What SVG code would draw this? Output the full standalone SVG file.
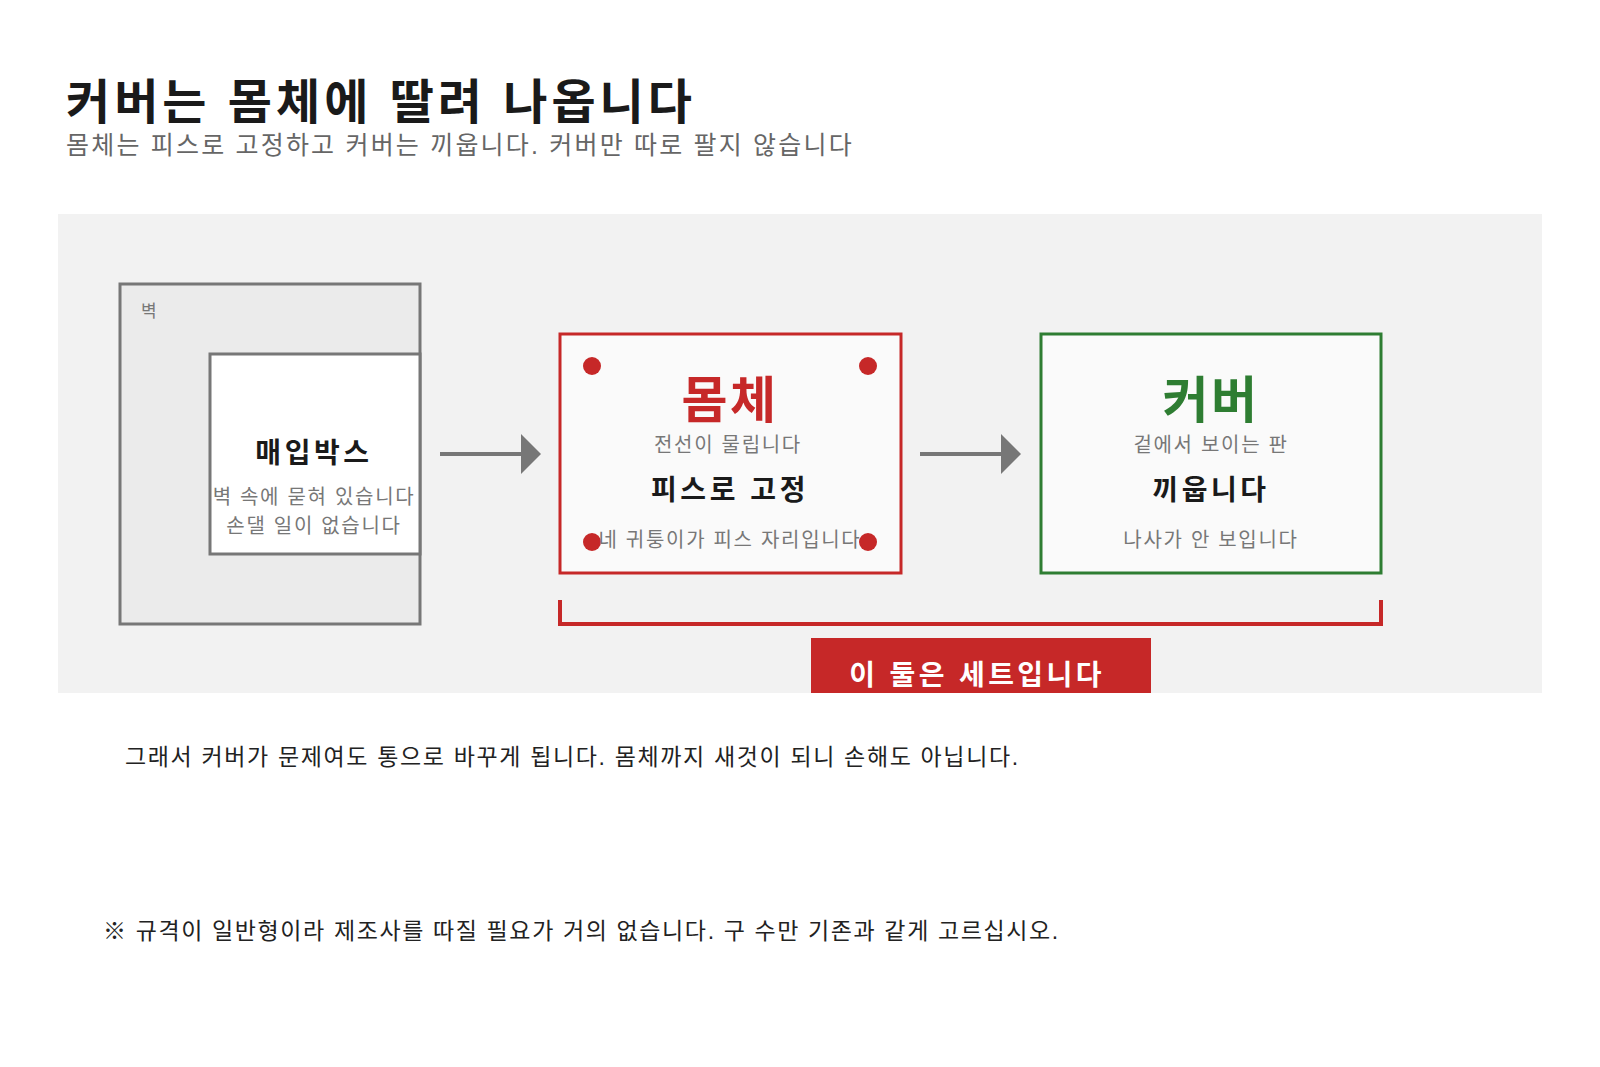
<svg xmlns="http://www.w3.org/2000/svg" width="1600" height="1067" viewBox="0 0 1600 1067">
<defs>
<style>
text{font-family:"Liberation Sans","Noto Sans CJK KR",sans-serif;}
.title{font-size:48px;font-weight:bold;fill:#1a1a1a;letter-spacing:4px;}
.sub{font-size:25px;fill:#666;letter-spacing:2.2px;}
.small{font-size:20px;fill:#777;letter-spacing:1.7px;}
.bold{font-weight:bold;fill:#1a1a1a;font-size:28px;letter-spacing:3.6px;}
.big{font-weight:bold;font-size:50px;letter-spacing:2.5px;}
.body{font-size:23px;fill:#222;letter-spacing:1.65px;}
.c{text-anchor:middle;}
.conn{stroke:#777;stroke-width:4;fill:none;}
</style>
<marker id="ah" markerUnits="userSpaceOnUse" markerWidth="20" markerHeight="40" refX="0" refY="20" orient="auto">
<path d="M0,0 L20,20 L0,40 Z" fill="#777"/>
</marker>
</defs>
<rect width="1600" height="1067" fill="#fff"/>
<g id="header">
<text class="title" x="66" y="119">커버는 몸체에 딸려 나옵니다</text>
<text class="sub" x="66" y="154">몸체는 피스로 고정하고 커버는 끼웁니다. 커버만 따로 팔지 않습니다</text>
</g>
<rect id="panel" x="58" y="214" width="1484" height="479" fill="#f2f2f2"/>
<g id="wall">
<rect x="120" y="284" width="300" height="340" fill="#ebebeb" stroke="#777" stroke-width="3"/>
<text class="small" x="141" y="317" style="font-size:17px">벽</text>
</g>
<g id="box">
<rect x="210" y="354" width="210" height="200" fill="#fff" stroke="#777" stroke-width="3"/>
<text class="bold c" x="314" y="463">매입박스</text>
<text class="small c" x="314" y="504">벽 속에 묻혀 있습니다</text>
<text class="small c" x="314" y="533">손댈 일이 없습니다</text>
</g>
<g id="body">
<rect x="560" y="334" width="341" height="239" fill="#fafafa" stroke="#c62828" stroke-width="3"/>
<circle cx="592" cy="366" r="9" fill="#c62828"/>
<circle cx="868" cy="366" r="9" fill="#c62828"/>
<circle cx="592" cy="542" r="9" fill="#c62828"/>
<circle cx="868" cy="542" r="9" fill="#c62828"/>
<text class="big c" x="730" y="418" fill="#c62828">몸체</text>
<text class="small c" x="728" y="452">전선이 물립니다</text>
<text class="bold c" x="730" y="500">피스로 고정</text>
<text class="small c" x="730" y="547">네 귀퉁이가 피스 자리입니다</text>
</g>
<g id="cover">
<rect x="1041" y="334" width="340" height="239" fill="#fafafa" stroke="#2e7d32" stroke-width="3"/>
<text class="big c" x="1211" y="418" fill="#2e7d32">커버</text>
<text class="small c" x="1211" y="452">겉에서 보이는 판</text>
<text class="bold c" x="1211" y="500">끼웁니다</text>
<text class="small c" x="1211" y="547">나사가 안 보입니다</text>
</g>
<g id="connectors">
<line class="conn" x1="440" y1="454" x2="521" y2="454" marker-end="url(#ah)"/>
<line class="conn" x1="920" y1="454" x2="1001" y2="454" marker-end="url(#ah)"/>
<path d="M560,600 V624 H1381 V600" fill="none" stroke="#c62828" stroke-width="4"/>
</g>
<g id="set-label">
<rect x="811" y="638" width="340" height="55" fill="#c62828"/>
<text class="c" x="977" y="685" style="font-size:28px;font-weight:bold;fill:#fff;letter-spacing:3.4px">이 둘은 세트입니다</text>
</g>
<g id="notes">
<text class="body" x="125" y="765">그래서 커버가 문제여도 통으로 바꾸게 됩니다. 몸체까지 새것이 되니 손해도 아닙니다.</text>
<text class="body" x="103" y="939" style="letter-spacing:1.62px">※ 규격이 일반형이라 제조사를 따질 필요가 거의 없습니다. 구 수만 기존과 같게 고르십시오.</text>
</g>
</svg>
